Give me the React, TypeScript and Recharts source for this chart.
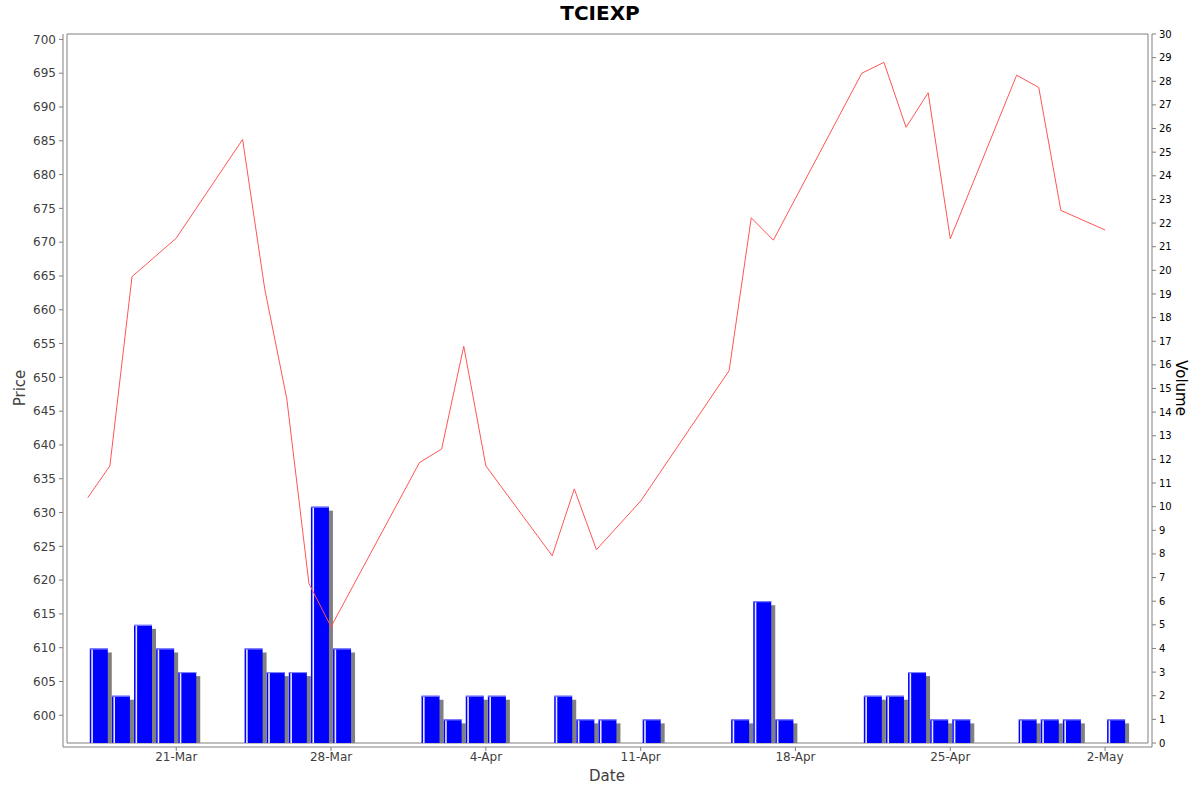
import { ComposedChart, Bar, Line, XAxis, YAxis, ReferenceArea } from 'recharts';

// trading days (NSE, 2025) with close price and volume
const dates = [
  '2025-03-17', '2025-03-18', '2025-03-19', '2025-03-20', '2025-03-21',
  '2025-03-24', '2025-03-25', '2025-03-26', '2025-03-27', '2025-03-28',
  '2025-04-01', '2025-04-02', '2025-04-03', '2025-04-04',
  '2025-04-07', '2025-04-08', '2025-04-09', '2025-04-11',
  '2025-04-15', '2025-04-16', '2025-04-17',
  '2025-04-21', '2025-04-22', '2025-04-23', '2025-04-24', '2025-04-25',
  '2025-04-28', '2025-04-29', '2025-04-30', '2025-05-02',
];
const prices = [
  632.2, 636.9, 664.9, null, 670.6,
  685.2, 663.1, 646.8, 619.5, 613.1,
  637.4, 639.4, 654.6, 636.9,
  623.6, 633.5, 624.5, 631.7,
  651.0, 673.6, 670.3,
  695.0, 696.6, 687.0, 692.1, 670.5,
  694.7, 692.9, 674.7, 671.8,
];
const volumes = [
  4, 2, 5, 4, 3,
  4, 3, 3, 10, 4,
  2, 1, 2, 2,
  2, 1, 1, 1,
  1, 6, 1,
  2, 2, 3, 1, 1,
  1, 1, 1, 1,
];

const dateTicks = ['2025-03-21', '2025-03-28', '2025-04-04', '2025-04-11', '2025-04-18', '2025-04-25', '2025-05-02'];
const priceTicks = [600, 605, 610, 615, 620, 625, 630, 635, 640, 645, 650, 655, 660, 665, 670, 675, 680, 685, 690, 695, 700];
const volumeTicks = [0, 1, 2, 3, 4, 5, 6, 7, 8, 9, 10, 11, 12, 13, 14, 15, 16, 17, 18, 19, 20, 21, 22, 23, 24, 25, 26, 27, 28, 29, 30];
const priceRange = [595.9, 700.8];
const volumeRange = [0, 30];

const DAY = 86400000;
const MONTHS = ['Jan', 'Feb', 'Mar', 'Apr', 'May', 'Jun', 'Jul', 'Aug', 'Sep', 'Oct', 'Nov', 'Dec'];
const toDay = (s: string) => Date.parse(s + 'T00:00:00Z') / DAY;
const fmtDate = (v: number) => {
  const d = new Date(Math.round(v) * DAY);
  return `${d.getUTCDate()}-${MONTHS[d.getUTCMonth()]}`;
};

const data = dates.map((d, i) => ({ t: toDay(d), price: prices[i], volume: volumes[i] }));

// auto range like jfreechart: first day .. end of last day, 2% margin each side
const first = data[0].t;
const last = data[data.length - 1].t + 1;
const pad = (last - first) * 0.02;
const xDomain = [first - pad, last + pad];
// bars cover the whole day, so their axis is shifted half a day
const barDomain = [xDomain[0] - 0.5, xDomain[1] - 0.5];

const AXIS = '#808080';
const TEXT = '#404040';

const VolumeBar = (props: any) => {
  const { x, y, width, height } = props;
  if (!height || height <= 0) return null;
  return (
    <g>
      <rect x={x + 4} y={y + 4} width={width} height={Math.max(0, height - 4)} fill="#808080" />
      <rect x={x} y={y} width={width} height={height} fill="#0000ff" />
      <rect x={x + 1.5} y={y + 1} width={1.6} height={height - 1} fill="#e8e8ff" />
      <rect x={x} y={y} width={width} height={1} fill="#8c8cff" />
    </g>
  );
};

export default function App() {
  return (
    <div style={{ position: 'absolute', left: 0, top: 0, width: 1200, height: 792, background: '#fff', fontFamily: '"DejaVu Sans", sans-serif' }}>
      <div style={{ position: 'absolute', left: 0, top: 0, width: 1200, height: 26, lineHeight: '26px', textAlign: 'center', fontSize: 20, fontWeight: 'bold', color: '#000' }}>
        TCIEXP
      </div>
      <ComposedChart width={1200} height={792} data={data} margin={{ top: 34, right: 0, bottom: 0, left: 0 }}>
        <XAxis
          xAxisId="date"
          dataKey="t"
          type="number"
          domain={xDomain}
          allowDataOverflow
          ticks={dateTicks.map(toDay)}
          tickFormatter={fmtDate}
          interval={0}
          height={45}
          padding={{ left: 4, right: 4 }}
          stroke={AXIS}
          tickSize={4}
          tickMargin={1}
          tick={{ fontSize: 12, fill: TEXT }}
        />
        <XAxis xAxisId="bars" dataKey="t" type="number" domain={barDomain} allowDataOverflow hide height={0} padding={{ left: 4, right: 4 }} />
        <YAxis
          yAxisId="price"
          domain={priceRange}
          allowDataOverflow
          ticks={priceTicks}
          interval={0}
          width={63}
          padding={{ top: 0, bottom: 4 }}
          stroke={AXIS}
          tickSize={4}
          tickMargin={3}
          tick={{ fontSize: 12, fill: TEXT }}
        />
        <YAxis
          yAxisId="vol"
          orientation="right"
          domain={volumeRange}
          allowDataOverflow
          ticks={volumeTicks}
          interval={0}
          width={48}
          padding={{ top: 0, bottom: 4 }}
          stroke={AXIS}
          tickSize={4}
          tickMargin={3}
          tick={{ fontSize: 10, fill: '#000' }}
        />
        <ReferenceArea
          xAxisId="date"
          yAxisId="price"
          x1={xDomain[0]}
          x2={xDomain[1]}
          y1={priceRange[0]}
          y2={priceRange[1]}
          fill="none"
          stroke={AXIS}
          ifOverflow="visible"
        />
        <Bar xAxisId="bars" yAxisId="vol" dataKey="volume" barSize={18} shape={VolumeBar} isAnimationActive={false} />
        <Line
          xAxisId="date"
          yAxisId="price"
          dataKey="price"
          type="linear"
          stroke="#ff5555"
          strokeWidth={1}
          dot={false}
          activeDot={false}
          connectNulls
          isAnimationActive={false}
        />
      </ComposedChart>
      <div style={{ position: 'absolute', left: 20, top: 388, transform: 'translate(-50%, -50%) rotate(-90deg)', fontSize: 15, color: TEXT, whiteSpace: 'nowrap' }}>
        Price
      </div>
      <div style={{ position: 'absolute', left: 1181, top: 388, transform: 'translate(-50%, -50%) rotate(90deg)', fontSize: 15, color: '#000', whiteSpace: 'nowrap' }}>
        Volume
      </div>
      <div style={{ position: 'absolute', left: 607, top: 776, transform: 'translate(-50%, -50%)', fontSize: 15, color: TEXT, whiteSpace: 'nowrap' }}>
        Date
      </div>
    </div>
  );
}
